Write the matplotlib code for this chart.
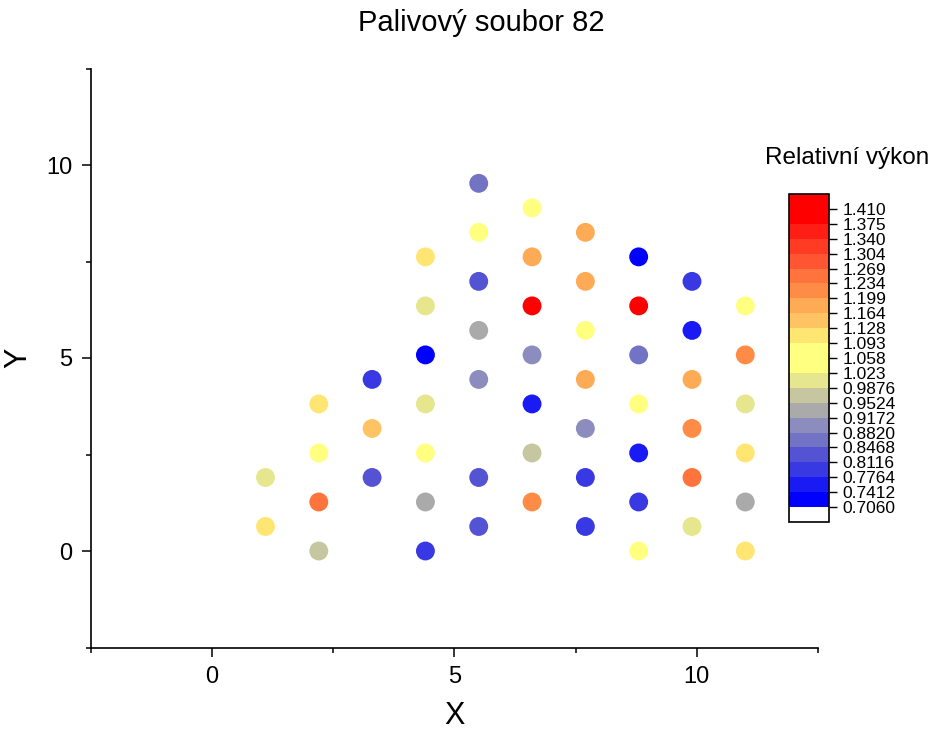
import numpy as np
import matplotlib
matplotlib.use("Agg")
import matplotlib.pyplot as plt
from matplotlib.colors import ListedColormap, BoundaryNorm
from matplotlib.ticker import MultipleLocator

plt.rcParams['font.family'] = ['Liberation Sans', 'DejaVu Sans']

# fuel rod positions (x, y) and relative power, read column by column
x_pos = [1.1, 1.1,
         2.2, 2.2, 2.2, 2.2,
         3.3, 3.3, 3.3,
         4.4, 4.4, 4.4, 4.4, 4.4, 4.4, 4.4,
         5.5, 5.5, 5.5, 5.5, 5.5, 5.5, 5.5,
         6.6, 6.6, 6.6, 6.6, 6.6, 6.6, 6.6,
         7.7, 7.7, 7.7, 7.7, 7.7, 7.7, 7.7,
         8.8, 8.8, 8.8, 8.8, 8.8, 8.8, 8.8,
         9.9, 9.9, 9.9, 9.9, 9.9, 9.9,
         11.0, 11.0, 11.0, 11.0, 11.0, 11.0]
y_pos = [1.905, 0.635,
         3.81, 2.54, 1.27, 0.0,
         4.445, 3.175, 1.905,
         7.62, 6.35, 5.08, 3.81, 2.54, 1.27, 0.0,
         9.525, 8.255, 6.985, 5.715, 4.445, 1.905, 0.635,
         8.89, 7.62, 6.35, 5.08, 3.81, 2.54, 1.27,
         8.255, 6.985, 5.715, 4.445, 3.175, 1.905, 0.635,
         7.62, 6.35, 5.08, 3.81, 2.54, 1.27, 0.0,
         6.985, 5.715, 4.445, 3.175, 1.905, 0.635,
         6.35, 5.08, 3.81, 2.54, 1.27, 0.0]
power = [1.00, 1.11,
         1.11, 1.05, 1.25, 0.97,
         0.79, 1.15, 0.83,
         1.10, 1.00, 0.72, 1.01, 1.07, 0.93, 0.79,
         0.86, 1.06, 0.83, 0.94, 0.90, 0.82, 0.83,
         1.07, 1.18, 1.41, 0.89, 0.75, 0.96, 1.22,
         1.17, 1.18, 1.06, 1.18, 0.90, 0.80, 0.79,
         0.71, 1.39, 0.86, 1.05, 0.75, 0.80, 1.04,
         0.79, 0.76, 1.18, 1.21, 1.25, 1.00,
         1.06, 1.22, 1.00, 1.11, 0.93, 1.10]

levels = [0.7060, 0.7412, 0.7764, 0.8116, 0.8468, 0.8820, 0.9172, 0.9524,
          0.9876, 1.023, 1.058, 1.093, 1.128, 1.164, 1.199, 1.234, 1.269,
          1.304, 1.340, 1.375, 1.410]
level_labels = ['0.7060', '0.7412', '0.7764', '0.8116', '0.8468', '0.8820',
                '0.9172', '0.9524', '0.9876', '1.023', '1.058', '1.093',
                '1.128', '1.164', '1.199', '1.234', '1.269', '1.304',
                '1.340', '1.375', '1.410']
level_colors = ['#0000FF', '#1A1AF5', '#3939E3', '#5353D3', '#7373C5',
                '#8C8CBE', '#AAAAAA', '#C6C6A0', '#E6E68E', '#FFFF80',
                '#FFFF80', '#FFE673', '#FFC364', '#FFAA55', '#FF8C46',
                '#FF733C', '#FF5532', '#FF3C23', '#FF1E14', '#FF0000']

cmap = ListedColormap(level_colors)
cmap.set_under('white')
cmap.set_over('#FF0000')
norm = BoundaryNorm(levels, cmap.N)

fig = plt.figure(figsize=(9.33, 7.33), dpi=100)
ax = fig.add_axes([91 / 933, 1 - 647.5 / 733, 727 / 933, 579 / 733])

sc = ax.scatter(x_pos, y_pos, c=power, cmap=cmap, norm=norm, s=185,
                edgecolors='none')

ax.set_xlim(-2.5, 12.5)
ax.set_ylim(-2.5, 12.5)
for side in ['top', 'right']:
    ax.spines[side].set_visible(False)
for side in ['left', 'bottom']:
    ax.spines[side].set_linewidth(1.2)
ax.xaxis.set_major_locator(MultipleLocator(5))
ax.xaxis.set_minor_locator(MultipleLocator(2.5))
ax.yaxis.set_major_locator(MultipleLocator(5))
ax.yaxis.set_minor_locator(MultipleLocator(2.5))
ax.tick_params(which='major', direction='out', length=6.5, width=1.1,
               labelsize=17, pad=7)
ax.tick_params(which='minor', direction='out', length=3.8, width=1.1)
ax.set_xlabel('X', fontsize=22, labelpad=9)
ax.set_ylabel('Y', fontsize=22, labelpad=9)

fig.text(481 / 933, 1 - 23 / 733, 'Palivový soubor 82', fontsize=21,
         ha='center', va='center')

cax = fig.add_axes([789 / 933, 1 - 522 / 733, 40 / 933, 328 / 733])
cb = fig.colorbar(sc, cax=cax, extend='both', extendrect=True,
                  extendfrac=0.05, spacing='uniform')
cb.set_ticks(levels)
cb.set_ticklabels(level_labels)
cb.ax.tick_params(labelsize=12.5, length=6, width=1.0, pad=3.5)
cb.outline.set_linewidth(1.2)
fig.text(847 / 933, 1 - 158 / 733, 'Relativní výkon', fontsize=17.5,
         ha='center', va='center')

fig.savefig('out.png', dpi=100)
